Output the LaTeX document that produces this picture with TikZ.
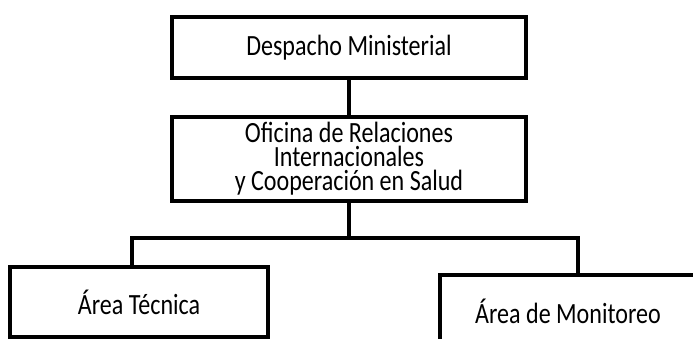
\documentclass[tikz,border=0pt]{standalone}
\usepackage{fontspec}
\setmainfont{Carlito}[FakeStretch=0.82]
\usetikzlibrary{positioning}

\begin{document}
\begin{tikzpicture}[
  x = 0.75pt, y = -0.75pt,
  every node/.style = {font=\fontsize{22}{18}\selectfont},
  box/.style  = {draw, line width=2.8pt, align=center, inner sep=0pt},
  link/.style = {line width=2.8pt}
]
\useasboundingbox (0,0) rectangle (693,339);
\clip (0,0) rectangle (693,339);

% Nodes
\node[box, minimum width=265.5pt, minimum height=45.75pt] (despacho) at (349,47.5)
  {Despacho Ministerial};
\node[box, minimum width=266pt, minimum height=63pt, below=26.25pt of despacho] (oficina)
  {Oficina de Relaciones\\Internacionales\\y Cooperación en Salud};
\node[box, minimum width=193.5pt, minimum height=52.5pt] (tecnica) at (139,302)
  {Área Técnica};
\node[box, minimum width=192pt, minimum height=54pt] (monitoreo) at (568,311)
  {Área de Monitoreo};

% Bus
\coordinate (busL) at (132,238);
\coordinate (busR) at (578,238);

% Links
\draw[link] (despacho.south) -- (oficina.north);
\draw[link] (oficina.south) -- (oficina.south |- busL);
\draw[link] (tecnica.north -| busL) -- (busL) -- (busR) -- (monitoreo.north -| busR);

\end{tikzpicture}
\end{document}
